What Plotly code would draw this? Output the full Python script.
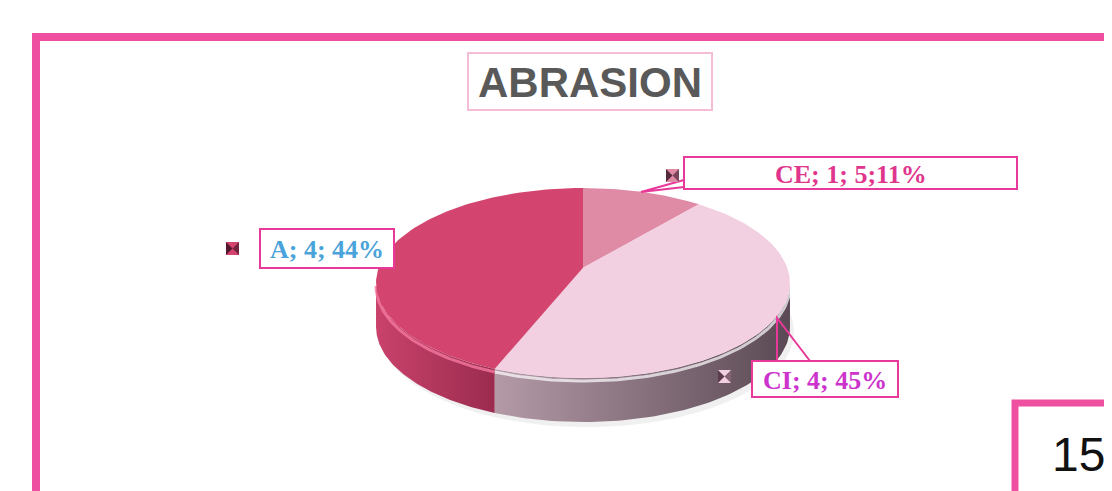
import numpy as np
import plotly.graph_objects as go

# ---- data ----
categories = ["CE", "CI", "A"]
percents = [11, 45, 44]
label_texts = ["CE; 1; 5;11%", "CI; 4; 45%", "A; 4; 44%"]
label_colors = ["#E0358C", "#CC33CC", "#4AA3DA"]
top_colors = ["#E08BA6", "#F3D0E1", "#D3456F"]
side_scales = [
    [[0, "#C06A88"], [1, "#A85070"]],
    [[0, "#B49AA7"], [1, "#5A4954"]],
    [[0, "#C9426C"], [1, "#9B2C4F"]],
]
rim_colors = ["rgba(255,230,240,0.6)", "rgba(255,255,255,0.7)", "rgba(245,120,160,0.8)"]
title_text = "ABRASION"
page_number = "15"

# ---- geometry (pixels of the window, y downward) ----
W, H = 1112, 491
OFF = 8  # default page body margin
k = 0.16                  # perspective strength
cx, apex_y = 583, 267.8   # projected centre of the disc
A_, B_ = 204.3, 92.6
depth = 44
PINK = "#EE4FA0"
BOX = "#E8399A"


def proj(theta_deg, dy=0.0):
    t = np.radians(theta_deg)
    u, v = np.sin(t), np.cos(t)
    d = 1 + k * v
    return cx + A_ * u / d, apex_y - B_ * v / d + dy


fig = go.Figure()

# soft shadow
th = np.linspace(0, 360, 240)
sx, sy = proj(th, depth + 5)
fig.add_trace(go.Scatter(x=sx + 4, y=sy, fill="toself", mode="none",
                         fillcolor="rgba(0,0,0,0.06)", hoverinfo="skip", showlegend=False))

total = float(sum(percents))
bounds = np.concatenate([[0], np.cumsum(percents) / total * 360])
lo = np.degrees(np.arccos(-k))
hi = 360 - lo

# side faces (visible front part)
for i in range(len(categories)):
    s, e = bounds[i], bounds[i + 1]
    s2, e2 = max(s, lo), min(e, hi)
    if e2 <= s2:
        continue
    t = np.linspace(s2, e2, 80)
    tx, ty = proj(t)
    bx, by = proj(t[::-1], depth)
    xs = np.concatenate([tx, bx, tx[:1]])
    ys = np.concatenate([ty, by, ty[:1]])
    fig.add_trace(go.Scatter(x=xs, y=ys, fill="toself", mode="lines",
                             line=dict(width=0),
                             fillgradient=dict(type="horizontal", colorscale=side_scales[i]),
                             hoverinfo="skip", showlegend=False))
    # bevel highlight just below the top edge
    hx, hy = proj(t, 3)
    fig.add_trace(go.Scatter(x=hx, y=hy, mode="lines",
                             line=dict(width=3, color=rim_colors[i]),
                             hoverinfo="skip", showlegend=False))

# top faces
for i in range(len(categories)):
    s, e = bounds[i], bounds[i + 1]
    t = np.linspace(s, e, 120)
    tx, ty = proj(t)
    xs = np.concatenate([[cx], tx, [cx]])
    ys = np.concatenate([[apex_y], ty, [apex_y]])
    fig.add_trace(go.Scatter(x=xs, y=ys, fill="toself", mode="lines",
                             line=dict(width=0), fillcolor=top_colors[i],
                             hoverinfo="skip", showlegend=False))

shapes = []
# outer frame
shapes.append(dict(type="rect", x0=36, y0=37, x1=1300, y1=700,
                   line=dict(color=PINK, width=8), layer="below"))
# title box
shapes.append(dict(type="rect", x0=468, y0=53, x1=712, y1=110,
                   line=dict(color="#F5BDD5", width=2)))
# page number box
shapes.append(dict(type="rect", x0=1015, y0=403, x1=1300, y1=700,
                   line=dict(color=PINK, width=7), fillcolor="white"))

# label boxes and callouts
label_boxes = {
    "CE": (684, 157, 1017, 189),
    "CI": (752, 361, 898, 397),
    "A": (260, 229, 394, 268),
}
pointers = {
    "CE": "M 684 180 L 641 192 L 684 187",
    "CI": "M 777 361 L 777 318 L 810 361",
}
for kk, p in pointers.items():
    shapes.append(dict(type="path", path=p, line=dict(color=BOX, width=2)))
for kk, (x0, y0, x1, y1) in label_boxes.items():
    shapes.append(dict(type="rect", x0=x0, y0=y0, x1=x1, y1=y1,
                       line=dict(color=BOX, width=2), fillcolor="white"))

# legend-key markers (bevelled squares)
keys = {"A": (226, 242), "CE": (666, 169), "CI": (718, 370)}
for i, c in enumerate(categories):
    x0, y0 = keys[c]
    s = 13
    shapes.append(dict(type="rect", x0=x0, y0=y0, x1=x0 + s, y1=y0 + s,
                       line=dict(width=0), fillcolor=top_colors[i]))
    shapes.append(dict(type="path",
                       path=f"M {x0} {y0} L {x0+s/2} {y0+s/2} L {x0} {y0+s} Z",
                       line=dict(width=0), fillcolor="rgba(40,10,25,0.75)"))
    shapes.append(dict(type="path",
                       path=f"M {x0+s} {y0} L {x0+s/2} {y0+s/2} L {x0+s} {y0+s} Z",
                       line=dict(width=0), fillcolor="rgba(40,10,25,0.55)"))

annotations = [
    dict(x=590, y=82, text=f"<b>{title_text}</b>", showarrow=False,
         font=dict(family="Liberation Sans, Arial", size=42, color="#595959")),
    dict(x=1078, y=454, text=page_number, showarrow=False,
         font=dict(family="Liberation Sans, Arial", size=48, color="#111111")),
]
for i, c in enumerate(categories):
    x0, y0, x1, y1 = label_boxes[c]
    annotations.append(dict(x=(x0 + x1) / 2, y=(y0 + y1) / 2 + 1,
                            text=f"<b>{label_texts[i]}</b>", showarrow=False,
                            font=dict(family="Liberation Serif, Times New Roman",
                                      size=26, color=label_colors[i])))

fig.update_layout(
    width=W - OFF, height=H - OFF, margin=dict(l=0, r=0, t=0, b=0),
    paper_bgcolor="white", plot_bgcolor="white",
    xaxis=dict(range=[OFF, W], visible=False, fixedrange=True),
    yaxis=dict(range=[H, OFF], visible=False, fixedrange=True),
    shapes=shapes, annotations=annotations, showlegend=False,
)

fig.write_html("out.html")
